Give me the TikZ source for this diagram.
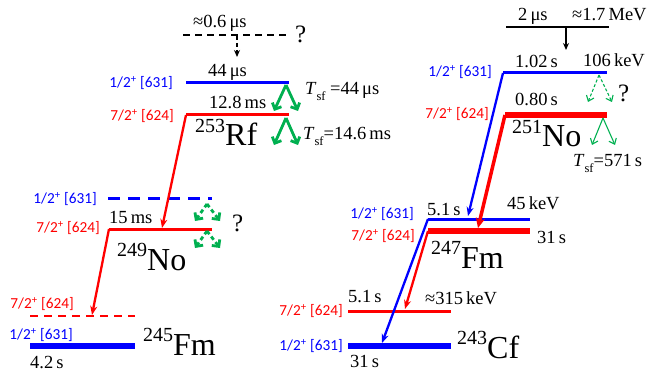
\documentclass[tikz,border=0pt]{standalone}
\usepackage{fontspec}
\setmainfont{Liberation Serif}
\newfontfamily\labfont{Carlito}
\usetikzlibrary{arrows.meta}
\definecolor{lblue}{RGB}{0,0,255}
\definecolor{lred}{RGB}{255,0,0}
\definecolor{lgreen}{RGB}{0,176,80}
\tikzset{
 lev/.style={line width=3pt},
 thicklev/.style={line width=5.5pt},
 decay/.style={line width=2.3pt,-{Stealth[length=9pt,width=7pt]}},
 fis/.style={lgreen,line width=2.8pt,-{Straight Barb[length=5pt,width=10pt]}},
 fisthin/.style={lgreen,line width=1.1pt,-{Straight Barb[length=5pt,width=8pt]}},
 lab/.style={font=\labfont\fontsize{15.3}{16}\selectfont,inner sep=0pt,anchor=east},
 num/.style={font=\fontsize{18.5}{19}\selectfont,inner sep=0pt,anchor=base west},
 nuc/.style={font=\fontsize{32}{32}\selectfont,inner sep=0pt,anchor=base west},
 qm/.style={font=\fontsize{25}{25}\selectfont,inner sep=0pt,anchor=base west},
}
\newcommand\nucl[2]{\raisebox{0.42em}{\fontsize{20}{20}\selectfont #1}#2}
\newcommand\tsf{\textit{T}\raisebox{-0.28em}{\fontsize{12.5}{12.5}\selectfont sf}}
\begin{document}
\begin{tikzpicture}[x=1pt,y=-1pt]
\useasboundingbox (0,0) rectangle (651,377);
% ---------- left column ----------
\coordinate (d0a) at (183,35); \coordinate (d0b) at (290,35);
\draw[line width=1.3pt,dash pattern=on 7pt off 5pt] (d0a) -- (d0b);
\node[num] (t06) at (193,28) {≈0.6\,μs};
\node[qm] (q1) at (295,43) {?};
\coordinate (a0s) at (237,36); \coordinate (a0e) at (237,57);
\draw[line width=1.3pt,dash pattern=on 4pt off 3pt,-{Stealth[length=7pt,width=6pt]}] (a0s) -- (a0e);

% 253Rf
\coordinate (rfb1) at (186,83); \coordinate (rfb2) at (289,83);
\coordinate (rfr1) at (186,115); \coordinate (rfr2) at (289,115);
\draw[lev,lblue] (rfb1) -- (rfb2);
\draw[lev,lred] (rfr1) -- (rfr2);
\node[lab,lblue] (rfbl) at (173,83) {1/2\textsuperscript{+} [631]};
\node[lab,lred] (rfrl) at (174,116) {7/2\textsuperscript{+} [624]};
\node[num] (t44) at (208,77) {44\,μs};
\node[num] (t128) at (209,109) {12.8\,ms};
\node[num] (ts1) at (305,95) {\tsf\ =44\,μs};
\node[num] (ts2) at (303,140) {\tsf=14.6\,ms};
\node[nuc] (rf) at (195,146) {\nucl{253}{Rf}};
\coordinate (g1a) at (286,85); \coordinate (g1l) at (274,111); \coordinate (g1r) at (298,111);
\draw[fis] (g1a) -- (g1l); \draw[fis] (g1a) -- (g1r);
\coordinate (g2a) at (286,118); \coordinate (g2l) at (274,145); \coordinate (g2r) at (298,145);
\draw[fis] (g2a) -- (g2l); \draw[fis] (g2a) -- (g2r);

% 249No
\coordinate (nob1) at (108,199); \coordinate (nob2) at (212,199);
\coordinate (nor1) at (109,229); \coordinate (nor2) at (212,229);
\draw[lev,lblue,dash pattern=on 12pt off 8pt] (nob1) -- (nob2);
\draw[lev,lred] (nor1) -- (nor2);
\node[lab,lblue] (nobl) at (97,199) {1/2\textsuperscript{+} [631]};
\node[lab,lred] (norl) at (100,228) {7/2\textsuperscript{+} [624]};
\node[num] (t15) at (109,223) {15\,ms};
\node[qm] (q2) at (232,232) {?};
\node[nuc] (no249) at (117,270) {\nucl{249}{No}};
\coordinate (nohit) at (162,228);
\draw[decay,lred] (rfr1) -- (nohit);
\coordinate (g3a) at (207,204); \coordinate (g3l) at (195,221); \coordinate (g3r) at (220,221);
\draw[fis,dash pattern=on 4pt off 3pt] (g3a) -- (g3l); \draw[fis,dash pattern=on 4pt off 3pt] (g3a) -- (g3r);
\coordinate (g4a) at (207,231); \coordinate (g4l) at (195,248); \coordinate (g4r) at (220,248);
\draw[fis,dash pattern=on 4pt off 3pt] (g4a) -- (g4l); \draw[fis,dash pattern=on 4pt off 3pt] (g4a) -- (g4r);

% 245Fm
\coordinate (fmr1) at (30,316); \coordinate (fmr2) at (135,316);
\coordinate (fmb1) at (30,346); \coordinate (fmb2) at (135,346);
\draw[lred,line width=1.6pt,dash pattern=on 8pt off 6pt] (fmr1) -- (fmr2);
\draw[thicklev,lblue] (fmb1) -- (fmb2);
\node[lab,lred] (fmrl) at (74,304) {7/2\textsuperscript{+} [624]};
\node[lab,lblue] (fmbl) at (73,335) {1/2\textsuperscript{+} [631]};
\node[num] (t42) at (30,368) {4.2\,s};
\node[nuc] (fm245) at (143,355) {\nucl{245}{Fm}};
\coordinate (fmhit) at (92,315);
\draw[decay,lred] (nor1) -- (fmhit);

% ---------- right column ----------
\coordinate (t1) at (506,27); \coordinate (t2) at (609,27);
\draw[line width=1.6pt] (t1) -- (t2);
\node[num] (t2us) at (518,21) {2\,μs};
\node[num] (t17) at (572,21) {≈1.7\,MeV};
\coordinate (a1s) at (566,27); \coordinate (a1e) at (566,50);
\draw[line width=1.6pt,-{Stealth[length=7pt,width=6pt]}] (a1s) -- (a1e);

% 251No
\coordinate (n5b1) at (503,73); \coordinate (n5b2) at (607,73);
\coordinate (n5r1) at (505,115); \coordinate (n5r2) at (607,115);
\draw[lev,lblue] (n5b1) -- (n5b2);
\draw[thicklev,lred] (n5r1) -- (n5r2);
\node[lab,lblue] (n5bl) at (492,72) {1/2\textsuperscript{+} [631]};
\node[lab,lred] (n5rl) at (489,114) {7/2\textsuperscript{+} [624]};
\node[num] (t102) at (515,68) {1.02\,s};
\node[num] (t106) at (583,67) {106\,keV};
\node[num] (t080) at (515,106) {0.80\,s};
\node[qm] (q3) at (618,102) {?};
\node[nuc] (no251) at (512,147) {\nucl{251}{No}};
\node[num] (ts3) at (573,167) {\tsf=571\,s};
\coordinate (g5a) at (599,75); \coordinate (g5l) at (588,102); \coordinate (g5r) at (612,102);
\draw[fisthin,dash pattern=on 3pt off 2pt] (g5a) -- (g5l); \draw[fisthin,dash pattern=on 3pt off 2pt] (g5a) -- (g5r);
\coordinate (g6a) at (603,118); \coordinate (g6l) at (592,145); \coordinate (g6r) at (615,145);
\draw[fisthin] (g6a) -- (g6l); \draw[fisthin] (g6a) -- (g6r);

% 247Fm
\coordinate (f7b1) at (428,219); \coordinate (f7b2) at (530,219);
\coordinate (f7r1) at (428,231); \coordinate (f7r2) at (530,231);
\draw[lev,lblue] (f7b1) -- (f7b2);
\draw[thicklev,lred] (f7r1) -- (f7r2);
\node[lab,lblue] (f7bl) at (414,214) {1/2\textsuperscript{+} [631]};
\node[lab,lred] (f7rl) at (415,236) {7/2\textsuperscript{+} [624]};
\node[num] (t51a) at (427,215) {5.1\,s};
\node[num] (t45) at (507,210) {45\,keV};
\node[num] (t31a) at (537,243) {31\,s};
\node[nuc] (fm247) at (431,268) {\nucl{247}{Fm}};
\coordinate (f7bhit) at (468,216);
\coordinate (f7rhit) at (478,228);
\draw[decay,lblue] (n5b1) -- (f7bhit);
\draw[lred,line width=3.5pt,-{Stealth[length=10pt,width=9pt]}] (n5r1) -- (f7rhit);

% 243Cf
\coordinate (cfr1) at (348,311); \coordinate (cfr2) at (451,311);
\coordinate (cfb1) at (348,346); \coordinate (cfb2) at (451,346);
\draw[lev,lred] (cfr1) -- (cfr2);
\draw[thicklev,lblue] (cfb1) -- (cfb2);
\node[lab,lred] (cfrl) at (343,311) {7/2\textsuperscript{+} [624]};
\node[lab,lblue] (cfbl) at (343,346) {1/2\textsuperscript{+} [631]};
\node[num] (t51b) at (348,302) {5.1\,s};
\node[num] (t315) at (425,304) {≈315\,keV};
\node[num] (t31b) at (350,367) {31\,s};
\node[nuc] (cf243) at (457,358) {\nucl{243}{Cf}};
\coordinate (cfbhit) at (382,343);
\coordinate (cfrhit) at (405,309);
\draw[decay,lblue] (f7b1) -- (cfbhit);
\draw[decay,lred] (f7r1) -- (cfrhit);
\end{tikzpicture}
\end{document}
